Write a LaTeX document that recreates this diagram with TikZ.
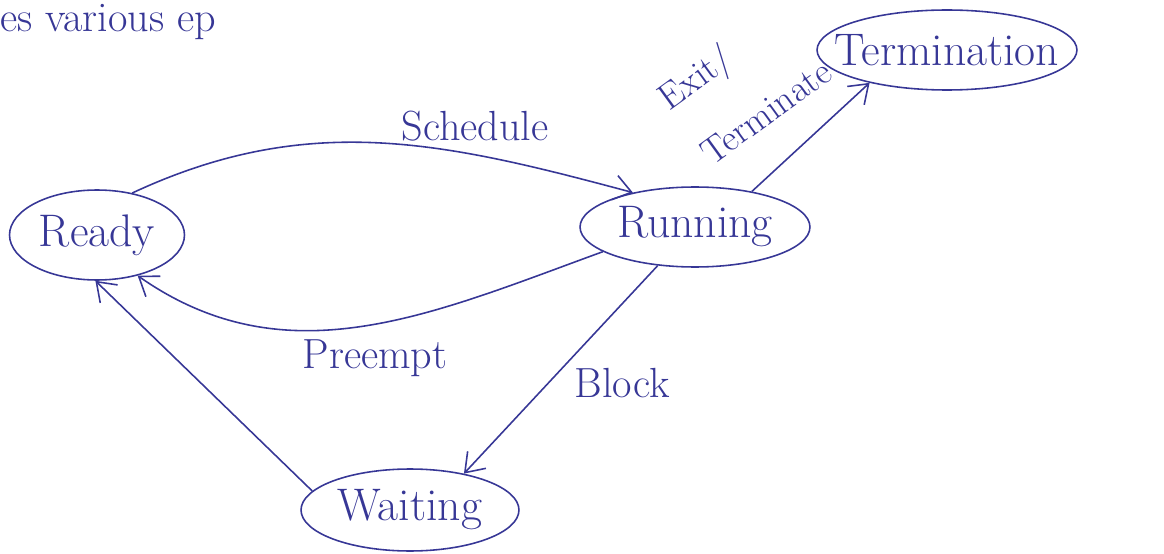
\documentclass[tikz,border=0pt]{standalone}
\usetikzlibrary{shapes.geometric,arrows.meta}
\definecolor{ink}{RGB}{55,55,150}
\tikzset{%
state/.style={draw,ellipse,ink,line width=0.9pt,inner sep=0pt,font=\fontsize{26}{28}\selectfont},
trans/.style={ink,line width=0.9pt,-{Straight Barb[length=3.5mm,width=5mm]}},
lbl/.style={ink,inner sep=0pt,font=\fontsize{24}{26}\selectfont}
}

\begin{document}
\begin{tikzpicture}[x=0.02cm,y=-0.02cm]
\useasboundingbox (0,0) rectangle (1164,554);
%%
\node[lbl,anchor=base west] (Top) at (0,32) {es various ep};
%%
\node[state,minimum width=3.5cm,minimum height=1.8cm]  (Ready)       at (97,235)  {Ready};
\node[state,minimum width=4.6cm,minimum height=1.6cm]  (Running)     at (695,227) {Running};
\node[state,inner xsep=-12pt,minimum width=5.2cm,minimum height=1.6cm] (Termination) at (947,50) {Termination};
\node[state,minimum width=4.36cm,minimum height=1.64cm] (Waiting)    at (410,510) {Waiting};
%%
\node[lbl] (Sched)   at (475,126) {Schedule};
\node[lbl] (Preempt) at (375,358) {Preempt};
\node[lbl] (Block)   at (622,383) {Block};
\node[lbl,rotate=36,font=\fontsize{21}{23}\selectfont] (ExitA) at (697,80)  {Exit/};
\node[lbl,rotate=36,font=\fontsize{21}{23}\selectfont] (ExitB) at (766,112) {Terminate};
%%
\draw[trans] (Ready.50)    to[out=25,in=165]  (Running.151);
\draw[trans] (Running.195) to[out=200,in=-35] (Ready.315);
\draw[trans] (Running.32)  -- (Termination.203);
\draw[trans] (Running.226) -- (Waiting.34);
\draw[trans] (Waiting.169) -- (Ready.268);
\end{tikzpicture}
\end{document}
